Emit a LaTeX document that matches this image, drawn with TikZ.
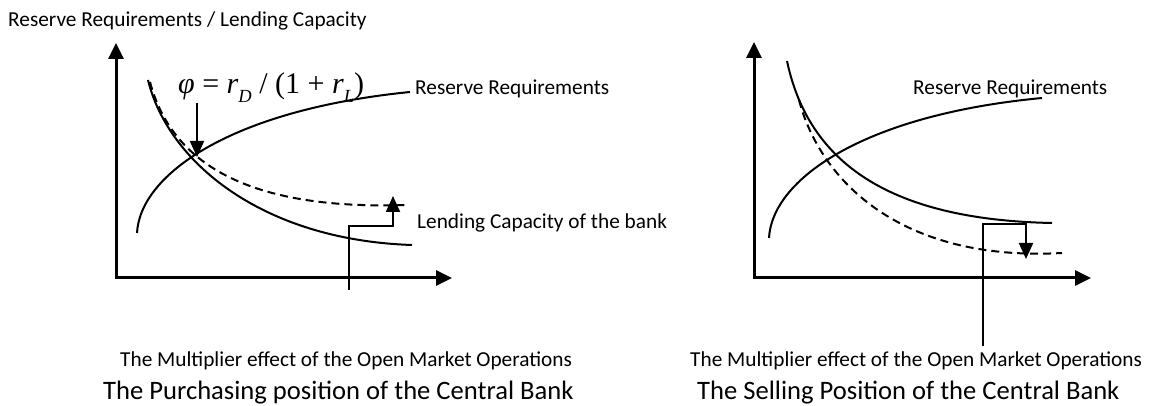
\documentclass[tikz,border=0pt]{standalone}
\usepackage{fontspec}
\setmainfont{Carlito}
\newfontfamily\tnr{Liberation Serif}
\usetikzlibrary{arrows.meta}
\begin{document}
\begin{tikzpicture}[x=1pt,y=-1pt,
  axis/.style={line width=3pt, {Triangle[length=16pt,width=15pt]}-{Triangle[length=16pt,width=15pt]}},
  curve/.style={line width=2pt},
  dcurve/.style={line width=2pt, dash pattern=on 8pt off 5pt},
  stepline/.style={line width=2pt},
  tipped/.style={-{Triangle[length=16pt,width=14pt]}},
  lbl/.style={font=\fontsize{21.3}{24}\selectfont, inner sep=0pt, anchor=base west},
  ttl/.style={font=\fontsize{26.6}{30}\selectfont, inner sep=0pt, anchor=base west}]
\useasboundingbox (0,0) rectangle (1149,406);

% ---------- left panel ----------
\node[lbl] (ylab) at (8,27) {Reserve Requirements / Lending Capacity};
\coordinate (Lytip) at (116,43);
\coordinate (Lo) at (116,278);
\coordinate (Lxtip) at (452,278);
\draw[axis] (Lytip) -- (Lo) -- (Lxtip);

% reserve requirements (increasing)
\draw[curve] (137,233) .. controls (140,175) and (230,110) .. (410,92) coordinate (Lrr);
% lending capacity (decreasing, solid)
\draw[curve] (148,80) .. controls (168,162) and (262,240) .. (412,245);
% shifted lending capacity (dashed)
\draw[dcurve] (150,82) .. controls (173,168) and (255,210) .. (407,205);

\node[inner sep=0pt, anchor=base west] (phi) at (178,94)
  {\fontsize{30}{32}\tnr \textit{φ} = \textit{r}\raisebox{-0.28em}{\fontsize{18.5}{18.5}\selectfont\textit{D}} / (1 + \textit{r}\raisebox{-0.28em}{\fontsize{18.5}{18.5}\selectfont\textit{L}})};
\coordinate (phiA) at (197,103);
\coordinate (phiB) at (197,157);
\draw[stepline, tipped] (phiA) -- (phiB);

\node[lbl] (Lrrlab) at (415,95) {Reserve Requirements};
\node[lbl] (Llclab) at (417,229) {Lending Capacity of the bank};

\coordinate (Ls0) at (349,290);
\coordinate (Ls1) at (349,226);
\coordinate (Ls2) at (393,226);
\coordinate (Ls3) at (393,196);
\draw[stepline, tipped] (Ls0) -- (Ls1) -- (Ls2) -- (Ls3);

\node[lbl] (Lmul) at (120,366) {The Multiplier effect of the Open Market Operations};
\node[ttl] (Lttl) at (103,399) {The Purchasing position of the Central Bank};

% ---------- right panel ----------
\coordinate (Rytip) at (754,42);
\coordinate (Ro) at (754,278);
\coordinate (Rxtip) at (1091,278);
\draw[axis] (Rytip) -- (Ro) -- (Rxtip);

\draw[curve] (769,238) .. controls (772,180) and (862,115) .. (1042,98);
\draw[curve] (787,61) .. controls (810,170) and (900,220) .. (1052,223);
\draw[dcurve] (799,100) .. controls (820,180) and (900,262) .. (1062,253);

\node[lbl] (Rrrlab) at (913,95) {Reserve Requirements};

\coordinate (Rs0) at (983,346);
\coordinate (Rs1) at (983,224);
\coordinate (Rs2) at (1026,224);
\coordinate (Rs3) at (1026,259);
\draw[stepline, tipped] (Rs0) -- (Rs1) -- (Rs2) -- (Rs3);

\node[lbl] (Rmul) at (690,366) {The Multiplier effect of the Open Market Operations};
\node[ttl] (Rttl) at (697,399) {The Selling Position of the Central Bank};
\end{tikzpicture}
\end{document}
